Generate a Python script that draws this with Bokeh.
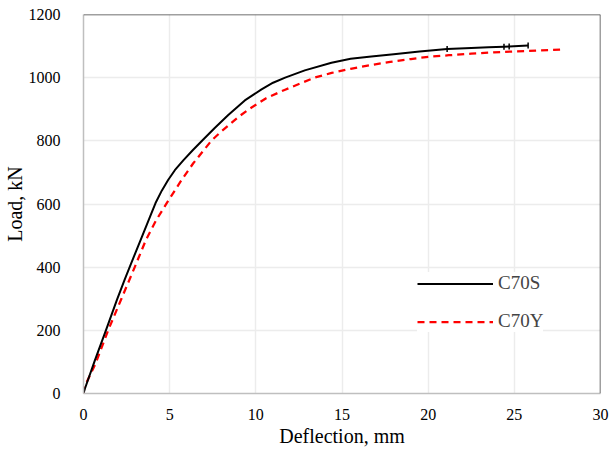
from bokeh.plotting import figure
from bokeh.models import Range1d, Span, Legend, LegendItem, FixedTicker
from bokeh.embed import file_html
from bokeh.resources import INLINE
import math

# ---- data ----
c70s_x = [0, 0.08, 0.66, 1.30, 1.95, 2.40, 2.69, 3.33, 3.95, 4.18, 4.55, 4.91, 5.3, 5.79, 6.35, 6.95,
          7.6, 8.4, 9.36, 10.33, 11.0, 11.7, 12.84, 14.39, 15.5, 16.7, 18.0, 19.5, 21.1, 22.5,
          23.5, 24.4, 24.7, 25.8]
c70s_y = [0, 15, 105, 200, 298, 362, 402, 488, 572, 603, 643, 676, 707, 738, 771, 804,
          840, 882, 928, 963, 984, 1000, 1023, 1047, 1060, 1067, 1074, 1083, 1091, 1094,
          1096, 1098, 1099, 1102]
c70s_mark_x = [21.1, 24.4, 24.7, 25.8]
c70s_mark_y = [1091, 1098, 1099, 1102]

c70y_x = [0, 0.05, 0.7, 1.43, 2.2, 2.98, 3.62, 4.2, 4.82, 5.69, 6.37, 7.43, 8.0, 9.0, 9.6, 10.6,
          11.7, 12.6, 13.4, 14.4, 15.5, 16.7, 17.8, 19.0, 20.0, 21.2, 22.5, 23.8, 25.0, 26.4, 27.8]
c70y_y = [0, 20, 95, 200, 300, 401, 486, 547, 602, 676, 729, 801, 830, 876, 900, 935,
          962, 982, 1000, 1015, 1028, 1040, 1050, 1059, 1066, 1071, 1076, 1080, 1083, 1086, 1089]

x_ticks = [0, 5, 10, 15, 20, 25, 30]
y_ticks = [0, 200, 400, 600, 800, 1000, 1200]

FONT = "Liberation Serif"

p = figure(frame_width=517, frame_height=379, output_backend="svg", toolbar_location=None,
           x_range=Range1d(0, 30), y_range=Range1d(0, 1200),
           min_border_left=82, min_border_right=13, min_border_top=14, min_border_bottom=57)
p.outline_line_color = None
p.background_fill_color = "white"
p.border_fill_color = "white"

p.xaxis.axis_line_color = "#bfbfbf"
p.yaxis.axis_line_color = "#bfbfbf"
p.xaxis.axis_line_width = 1.5
p.yaxis.axis_line_width = 1.5
for ax in (p.xaxis, p.yaxis):
    ax.major_tick_line_color = None
    ax.minor_tick_line_color = None
    ax.major_tick_in = 0
    ax.major_tick_out = 0
    ax.minor_tick_in = 0
    ax.minor_tick_out = 0
    ax.major_label_text_font = FONT
    ax.major_label_text_font_size = "16px"
    ax.major_label_text_font_style = "normal"
    ax.major_label_text_color = "black"
    ax.axis_label_text_font = FONT
    ax.axis_label_text_font_size = "20px"
    ax.axis_label_text_font_style = "normal"
    ax.axis_label_text_color = "black"

p.xaxis.ticker = FixedTicker(ticks=x_ticks)
p.yaxis.ticker = FixedTicker(ticks=y_ticks)
p.xaxis.axis_label = "Deflection, mm"
p.yaxis.axis_label = "Load, kN"
p.xaxis.major_label_standoff = 15
p.xaxis.axis_label_standoff = 2
p.yaxis.major_label_standoff = 23
p.yaxis.axis_label_standoff = 0

p.xgrid.grid_line_color = "#ececec"
p.ygrid.grid_line_color = "#ececec"
p.xgrid.grid_line_width = 1.5
p.ygrid.grid_line_width = 1.5

p.add_layout(Span(location=1200, dimension="width", line_color="#404040", line_width=1.5))
p.add_layout(Span(location=30, dimension="height", line_color="#404040", line_width=1.5))

r_y = p.line(c70y_x, c70y_y, line_color="#ff0000", line_width=2.25, line_dash="7 5",
             line_join="round")
r_s = p.line(c70s_x, c70s_y, line_color="black", line_width=2, line_join="round")
p.scatter(c70s_mark_x, c70s_mark_y, marker="dash", angle=math.pi / 2, size=6,
          line_color="black", line_width=1.5)

legend = Legend(items=[LegendItem(label="C70S", renderers=[r_s]),
                       LegendItem(label="C70Y", renderers=[r_y])],
                location=(334, 61), orientation="vertical")
legend.border_line_color = None
legend.background_fill_color = "white"
legend.background_fill_alpha = 1.0
legend.label_text_font = FONT
legend.label_text_font_size = "19px"
legend.label_text_font_style = "normal"
legend.glyph_width = 76
legend.glyph_height = 21
legend.label_height = 21
legend.spacing = 16
legend.padding = 5
legend.margin = 0
legend.label_standoff = 5
p.add_layout(legend, "center")

open("out.html", "w").write(file_html(p, INLINE))
